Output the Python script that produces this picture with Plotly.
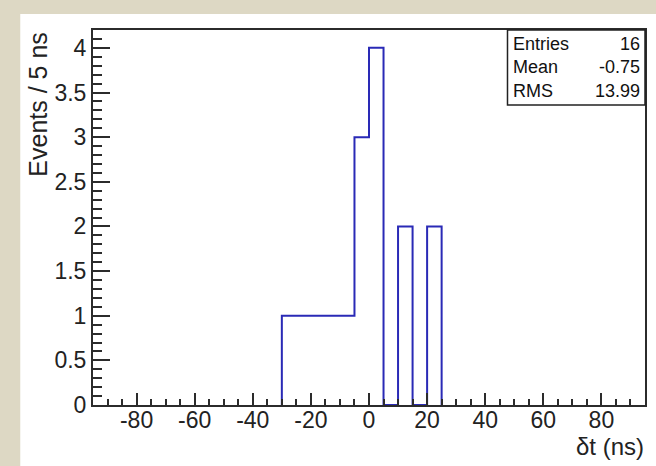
import plotly.graph_objects as go

# Histogram of time differences, 5 ns bins
bin_width = 5
first_edge = -30
counts = [1, 1, 1, 1, 1, 3, 4, 0, 2, 0, 2]

x_range = [-95, 95]
y_range = [0, 4.2]

x_tick_vals = [-80, -60, -40, -20, 0, 20, 40, 60, 80]
x_tick_text = ["-80", "-60", "-40", "-20", "0", "20", "40", "60", "80"]

stat_labels = ["Entries", "Mean", "RMS"]
stat_values = ["16", "-0.75", "13.99"]

x_title = "δt (ns)"
y_title = "Events / 5 ns"

# Figure geometry (pixels)
W, H = 656, 466
L, R, T, B = 93, 647, 30, 405
pw, ph = R - L, B - T


def px(x):
    return (x - L) / pw


def py(y):
    return (B - y) / ph


# Step outline: start at zero, walk each bin, return to zero
xs = [first_edge]
ys = [0]
for i, c in enumerate(counts):
    lo = first_edge + i * bin_width
    xs += [lo, lo + bin_width]
    ys += [c, c]
xs.append(first_edge + len(counts) * bin_width)
ys.append(0)

FONT = "Liberation Sans, Arial, sans-serif"
INK = "#222"

fig = go.Figure()
fig.add_trace(go.Scatter(
    x=xs, y=ys, mode="lines",
    line=dict(color="#2a2ab6", width=2),
    hoverinfo="skip", showlegend=False,
))

axis_common = dict(
    showline=True, mirror=True, linecolor="#2b2b2b", linewidth=2,
    ticks="inside", tickcolor="#2b2b2b", tickwidth=1.5,
    showgrid=False, zeroline=False, layer="above traces",
    tickfont=dict(family=FONT, size=23, color=INK),
)

fig.update_xaxes(
    range=x_range, tickmode="array", tickvals=x_tick_vals,
    ticktext=x_tick_text, ticklen=12, ticklabelstandoff=-7,
    minor=dict(ticks="inside", dtick=5, tick0=0, ticklen=6,
               tickcolor="#2b2b2b", tickwidth=1.5, showgrid=False),
    **axis_common,
)
fig.update_yaxes(
    range=y_range, tickmode="linear", tick0=0, dtick=0.5, ticklen=17,
    minor=dict(ticks="inside", dtick=0.1, tick0=0, ticklen=9,
               tickcolor="#2b2b2b", tickwidth=1.5, showgrid=False),
    **axis_common,
)

shapes = [
    # white canvas inside the beige window border
    dict(type="rect", xref="paper", yref="paper", layer="below",
         x0=px(20), x1=px(W + 5), y0=py(H + 5), y1=py(14),
         fillcolor="white", line=dict(width=0)),
    # statistics box
    dict(type="rect", xref="paper", yref="paper", layer="above",
         x0=px(509), x1=px(647), y0=py(105), y1=py(30),
         fillcolor="white", line=dict(color=INK, width=1.5)),
]

annotations = []
row_y = [43.5, 67, 90.5]
for lab, val, yy in zip(stat_labels, stat_values, row_y):
    annotations.append(dict(
        x=px(513), y=py(yy), xref="paper", yref="paper",
        text=lab, showarrow=False, xanchor="left", yanchor="middle",
        font=dict(family=FONT, size=18, color="#111")))
    annotations.append(dict(
        x=px(644), y=py(yy), xref="paper", yref="paper",
        text=val, showarrow=False, xanchor="right", yanchor="middle",
        font=dict(family=FONT, size=18, color="#111")))

annotations.append(dict(
    x=px(648), y=py(431), xref="paper", yref="paper", text=x_title,
    showarrow=False, xanchor="right", yanchor="top",
    font=dict(family=FONT, size=24, color=INK)))
annotations.append(dict(
    x=px(37), y=py(30), xref="paper", yref="paper", text=y_title,
    showarrow=False, xanchor="center", yanchor="top", textangle=-90,
    font=dict(family=FONT, size=25, color=INK)))

fig.update_layout(
    width=W, height=H,
    margin=dict(l=L, r=W - R, t=T, b=H - B, pad=0),
    paper_bgcolor="#ddd8c4", plot_bgcolor="white",
    shapes=shapes, annotations=annotations,
)

fig.write_html("out.html")
